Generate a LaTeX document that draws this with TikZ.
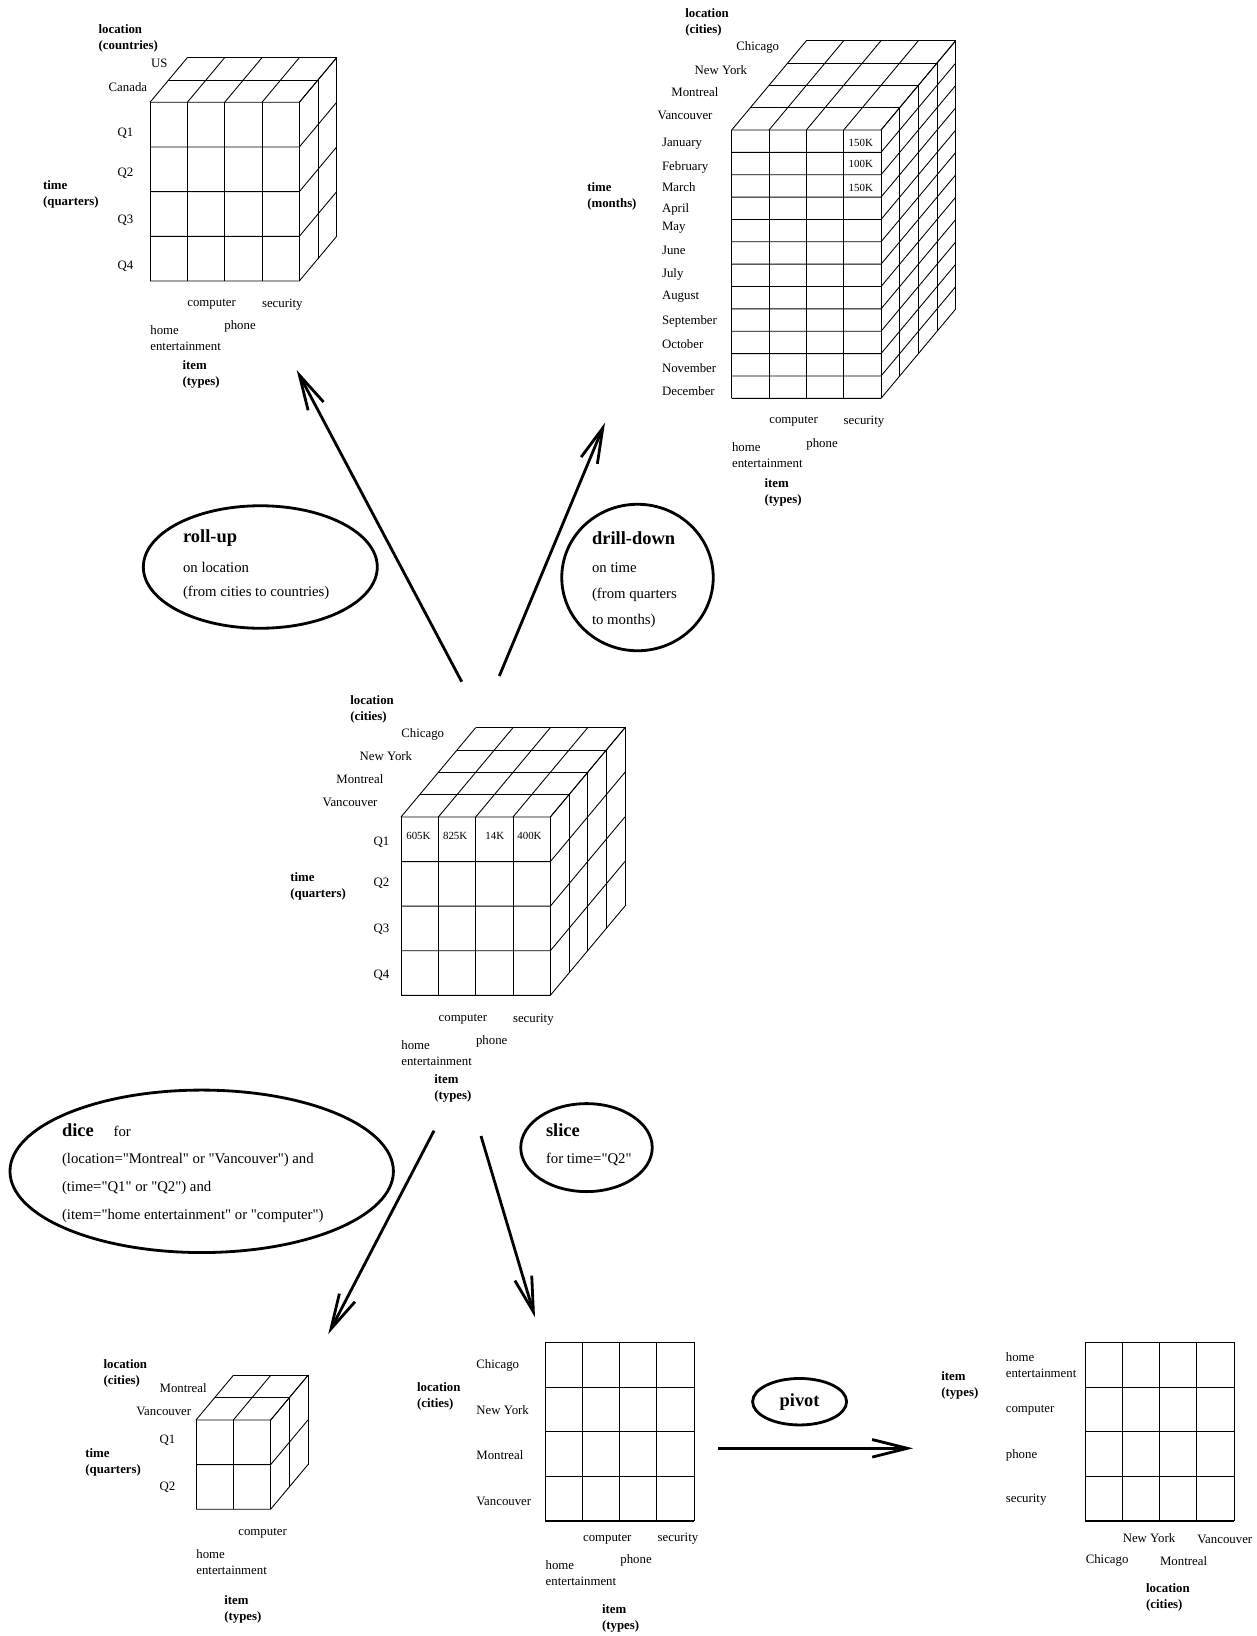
\documentclass[tikz,border=0pt]{standalone}
\usepackage{fontspec}
\setmainfont{Liberation Serif}[Ligatures=TeXOff]
\usepackage{tikz}
\usetikzlibrary{arrows.meta, shapes.geometric}
\newcommand{\lblfont}{\fontsize{7.3}{9.2}\selectfont}
\newcommand{\valfont}{\fontsize{6.2}{7}\selectfont}
\newcommand{\opfont}{\fontsize{8.4}{10}\selectfont}
\newcommand{\optitlefont}{\fontsize{10.5}{12}\selectfont\bfseries}
% cube cell width and layer offset (pixels of the layout grid)
\newcommand{\cubecw}{37.33}
\newcommand{\layerdx}{18.67}
\newcommand{\layerdy}{22.33}
\tikzset{
  cell/.style={draw=black, line width=0.5pt},
  lbl/.style={font=\lblfont, inner sep=0pt, anchor=west, align=left},
  axis/.style={lbl, font=\lblfont\bfseries},
  val/.style={font=\valfont, inner sep=0pt, anchor=west},
  optxt/.style={font=\opfont, inner sep=0pt, anchor=west},
  optitle/.style={font=\optitlefont, inner sep=0pt, anchor=west},
  opshape/.style={ellipse, draw=black, line width=1.6pt, inner sep=0pt},
  oparrow/.style={-{Straight Barb[length=20pt, width=10pt]}, line width=1.6pt},
}

\begin{document}
\begin{tikzpicture}[x=0.02cm, y=-0.02cm]
  \useasboundingbox (0,0) rectangle (1257,1636);
  % \datacube{front x}{front y}{columns}{rows}{row height}{layers}
  \newcommand{\datacube}[6]{
    \foreach \i in {0,...,#3} {
      \draw[cell] ({#1+\i*\cubecw},#2) -- ({#1+\i*\cubecw},{#2+#4*#5});
      \draw[cell] ({#1+\i*\cubecw},#2) -- ({#1+\i*\cubecw+#6*\layerdx},{#2-#6*\layerdy});
    }
    \foreach \j in {0,...,#4}
      \draw[cell] (#1,{#2+\j*#5}) -- ({#1+#3*\cubecw},{#2+\j*#5})
        -- ({#1+#3*\cubecw+#6*\layerdx},{#2+\j*#5-#6*\layerdy});
    \foreach \k in {1,...,#6}
      \draw[cell] ({#1+\k*\layerdx},{#2-\k*\layerdy}) -- ({#1+#3*\cubecw+\k*\layerdx},{#2-\k*\layerdy})
        -- ({#1+#3*\cubecw+\k*\layerdx},{#2+#4*#5-\k*\layerdy});
  }
  % \cellgrid{left x}{top y}{column width}: flat 4x4 table
  \newcommand{\cellgrid}[3]{
    \foreach \i in {0,...,4} {
      \draw[cell] ({#1+\i*#3},#2) -- ({#1+\i*#3},{#2+4*44.67});
      \draw[cell] (#1,{#2+\i*44.67}) -- ({#1+4*#3},{#2+\i*44.67});
    }
    \draw[cell, line width=1.3pt] (#1,{#2+4*44.67}) -- ({#1+4*#3},{#2+4*44.67});
  }

  % ---- roll-up result (countries x quarters)
  \datacube{150}{102.3}{4}{4}{44.67}{2}
  \node[axis] (ruLoc) at (98.3,38.6) {location\\(countries)};
  \node[lbl] (ruUS) at (150.7,63.3) {US};
  \node[lbl] (ruCA) at (108.3,86.7) {Canada};
  \foreach \q/\y in {1/133.3, 2/173.3, 3/220, 4/266.7}
    \node[lbl] (ruQ\q) at (117.3,\y) {Q\q};
  \node[axis] (ruTime) at (42.8,194.5) {time\\(quarters)};
  \node[lbl] (ruComp) at (187,304.3) {computer};
  \node[lbl] (ruSec) at (261.7,304.3) {security};
  \node[lbl] (ruHome) at (150,338.5) {home\\entertainment};
  \node[lbl] (ruPhone) at (224,326.7) {phone};
  \node[axis] (ruItem) at (182.3,374.7) {item\\(types)};

  % ---- drill-down result (cities x months)
  \datacube{731.7}{130}{4}{12}{22.36}{4}
  \node[axis] (ddLoc) at (685,22) {location\\(cities)};
  \node[lbl] (ddChi) at (736,47) {Chicago};
  \node[lbl] (ddNY) at (694.3,70) {New York};
  \node[lbl] (ddMon) at (671,92) {Montreal};
  \node[lbl] (ddVan) at (657.3,115) {Vancouver};
  \foreach \m/\y [count=\n] in {January/144, February/167.7, March/186.7, April/209, May/227.3, June/250,
      July/274, August/296.7, September/321, October/344, November/367.7, December/390.7}
    \node[lbl] (ddM\n) at (661.7,\y) {\m};
  \node[axis] (ddTime) at (587,196) {time\\(months)};
  \node[val] (ddV1) at (848.3,142.7) {150K};
  \node[val] (ddV2) at (848.3,164.3) {100K};
  \node[val] (ddV3) at (848.3,187.7) {150K};
  \node[lbl] (ddComp) at (769,421.7) {computer};
  \node[lbl] (ddSec) at (843.3,421.7) {security};
  \node[lbl] (ddHome) at (731.7,455.2) {home\\entertainment};
  \node[lbl] (ddPhone) at (806,444.3) {phone};
  \node[axis] (ddItem) at (764.3,492.2) {item\\(types)};

  % ---- base cube (cities x quarters)
  \datacube{401}{817}{4}{4}{44.58}{4}
  \node[axis] (cLoc) at (350,709.2) {location\\(cities)};
  \node[lbl] (cChi) at (401,734.3) {Chicago};
  \node[lbl] (cNY) at (359.3,756) {New York};
  \node[lbl] (cMon) at (336,779) {Montreal};
  \node[lbl] (cVan) at (322.3,802.3) {Vancouver};
  \foreach \q/\y in {1/842.7, 2/883.3, 3/929.3, 4/975}
    \node[lbl] (cQ\q) at (373.3,\y) {Q\q};
  \node[axis] (cTime) at (290,886.8) {time\\(quarters)};
  \foreach \v/\x [count=\n] in {605K/406, 825K/442.7, 14K/485, 400K/517}
    \node[val] (cV\n) at (\x,835.7) {\v};
  \node[lbl] (cComp) at (438.3,1019.3) {computer};
  \node[lbl] (cSec) at (512.7,1019.3) {security};
  \node[lbl] (cHome) at (401,1053) {home\\entertainment};
  \node[lbl] (cPhone) at (475.7,1041.7) {phone};
  \node[axis] (cItem) at (434,1088.2) {item\\(types)};

  % ---- dice result
  \datacube{196}{1420}{2}{2}{44.6}{2}
  \node[axis] (diLoc) at (103.3,1373.5) {location\\(cities)};
  \node[lbl] (diMon) at (159.3,1388.2) {Montreal};
  \node[lbl] (diVan) at (136,1411) {Vancouver};
  \node[lbl] (diQ1) at (159.3,1440.2) {Q1};
  \node[lbl] (diQ2) at (159.3,1487) {Q2};
  \node[axis] (diTime) at (85,1462.4) {time\\(quarters)};
  \node[lbl] (diComp) at (238,1533.5) {computer};
  \node[lbl] (diHome) at (196,1561.7) {home\\entertainment};
  \node[axis] (diItem) at (224,1609) {item\\(types)};

  % ---- slice result (cities x items)
  \cellgrid{545.3}{1342.3}{37.17}
  \node[axis] (slLoc) at (416.7,1396) {location\\(cities)};
  \foreach \c/\y [count=\n] in {Chicago/1365, New York/1410, Montreal/1455, Vancouver/1501}
    \node[lbl] (slC\n) at (476,\y) {\c};
  \node[lbl] (slComp) at (582.7,1539) {computer};
  \node[lbl] (slSec) at (657.3,1539) {security};
  \node[lbl] (slHome) at (545.3,1573.3) {home\\entertainment};
  \node[lbl] (slPhone) at (620,1560) {phone};
  \node[axis] (slItem) at (601.7,1618.8) {item\\(types)};

  % ---- pivot result (items x cities)
  \cellgrid{1085.4}{1342.3}{37.15}
  \node[axis] (pvItem) at (940.9,1385) {item\\(types)};
  \node[lbl] (pvHome) at (1005.5,1365) {home\\entertainment};
  \node[lbl] (pvComp) at (1005.5,1410.7) {computer};
  \node[lbl] (pvPhone) at (1005.5,1455) {phone};
  \node[lbl] (pvSec) at (1005.5,1499.3) {security};
  \node[lbl] (pvNY) at (1122.4,1538.3) {New York};
  \node[lbl] (pvVan) at (1197,1539) {Vancouver};
  \node[lbl] (pvChi) at (1085.4,1560.7) {Chicago};
  \node[lbl] (pvMon) at (1159.7,1560.7) {Montreal};
  \node[axis] (pvLoc) at (1145.8,1597.2) {location\\(cities)};

  % ---- operations
  \node[opshape, minimum width=4.68cm, minimum height=2.45cm] (ruOp) at (260.3,567) {};
  \node[optitle] (ruT) at (182.7,538.3) {roll-up};
  \node[optxt] (ruL1) at (182.7,567.3) {on location};
  \node[optxt] (ruL2) at (182.7,593.3) {(from cities to countries)};

  \node[opshape, minimum width=3.03cm, minimum height=2.93cm] (ddOp) at (637.5,577.5) {};
  \node[optitle] (ddT) at (591.7,538.3) {drill-down};
  \node[optxt] (ddL1) at (591.7,567.3) {on time};
  \node[optxt] (ddL2) at (591.7,595) {(from quarters};
  \node[optxt] (ddL3) at (591.7,621) {to months)};

  \node[opshape, minimum width=7.67cm, minimum height=3.25cm] (diOp) at (201.7,1171.3) {};
  \node[optitle] (diT) at (61.7,1130) {dice};
  \node[optxt, anchor=base west] (diFor) at (113.3,0 |- diT.base) {for};
  \node[optxt] (diL1) at (61.7,1160) {(location="Montreal" or "Vancouver") and};
  \node[optxt] (diL2) at (61.7,1188.3) {(time="Q1" or "Q2") and};
  \node[optxt] (diL3) at (61.7,1216) {(item="home entertainment" or "computer")};

  \node[opshape, minimum width=2.63cm, minimum height=1.76cm] (slOp) at (586.5,1147.6) {};
  \node[optitle] (slT) at (545.7,1130) {slice};
  \node[optxt] (slL1) at (545.7,1159.3) {for time="Q2"};

  \node[opshape, minimum width=1.88cm, minimum height=0.93cm, font=\optitlefont] (pvOp) at (799.6,1401.7) {pivot};

  % ---- arrows from the base cube to each result
  \coordinate (ruTail) at (461.7,681.7);  \coordinate (ruHead) at (296.7,370);
  \coordinate (ddTail) at (499.3,676);    \coordinate (ddHead) at (605,422.7);
  \coordinate (diTail) at (434,1130.7);   \coordinate (diHead) at (328.3,1334);
  \coordinate (slTail) at (481,1136);     \coordinate (slHead) at (535,1317.3);
  \coordinate (pvTail) at (717.8,1448.3); \coordinate (pvHead) at (913.1,1448.3);
  \draw[oparrow] (ruTail) -- (ruHead);
  \draw[oparrow] (ddTail) -- (ddHead);
  \draw[oparrow] (diTail) -- (diHead);
  \draw[oparrow] (slTail) -- (slHead);
  \draw[oparrow] (pvTail) -- (pvHead);
\end{tikzpicture}
\end{document}
